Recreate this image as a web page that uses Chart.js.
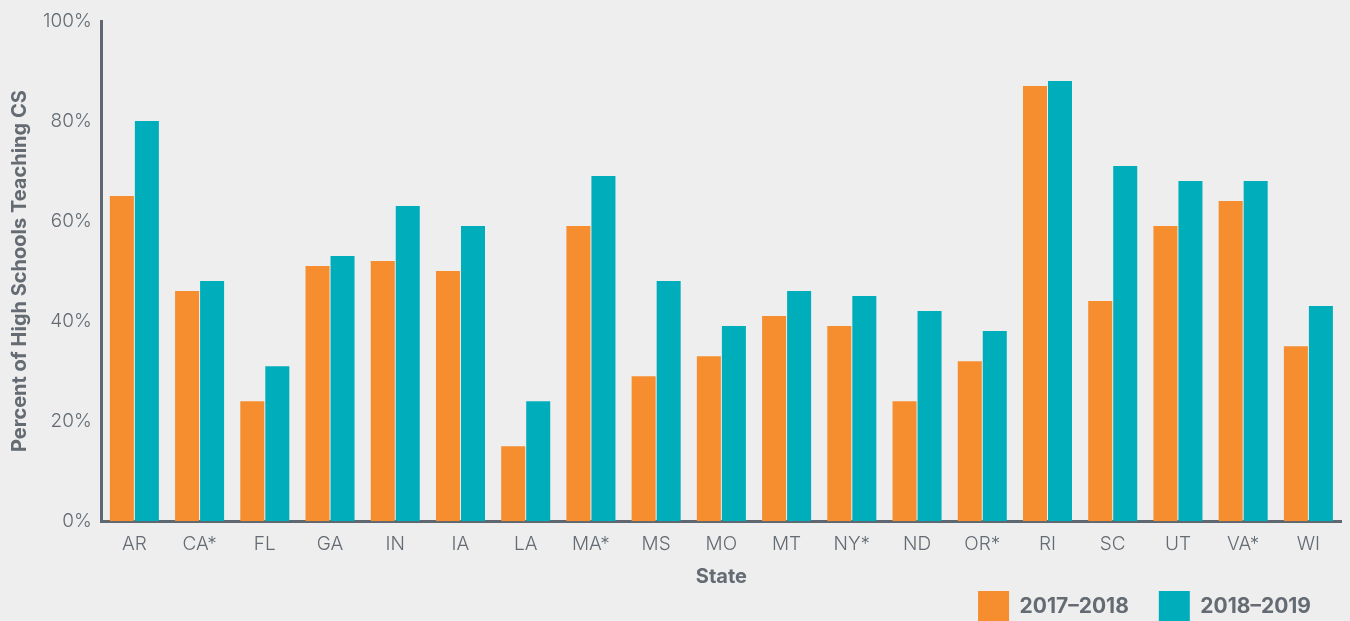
<!DOCTYPE html>
<html>
<head>
<meta charset="utf-8">
<script src="https://cdn.jsdelivr.net/npm/chart.js@4.4.1/dist/chart.umd.min.js"></script>
<style>
  html, body { margin: 0; padding: 0; background: #eeeeee; overflow: hidden; }
  #wrap { width: 1350px; height: 632px; }
</style>
</head>
<body>
<div id="wrap"><canvas id="chart" width="1350" height="632"></canvas></div>
<script>
const states = ["AR", "CA*", "FL", "GA", "IN", "IA", "LA", "MA*", "MS", "MO", "MT", "NY*", "ND", "OR*", "RI", "SC", "UT", "VA*", "WI"];
const year2017 = [65, 46, 24, 51, 52, 50, 15, 59, 29, 33, 41, 39, 24, 32, 87, 44, 59, 64, 35];
const year2018 = [80, 48, 31, 53, 63, 59, 24, 69, 48, 39, 46, 45, 42, 38, 88, 71, 68, 68, 43];
const yTicks = [0, 20, 40, 60, 80, 100];

const textGray = '#646b73';
const axisGray = '#5f6870';
const fontFamily = 'Inter, "Open Sans", sans-serif';

const chartData = {
  labels: states,
  datasets: [
    {
      label: "2017\u20132018",
      data: year2017,
      backgroundColor: '#f68d2e',
      borderWidth: 0,
    },
    {
      label: "2018\u20132019",
      data: year2018,
      backgroundColor: '#00adbb',
      borderWidth: 0,
    },
  ],
};

const chartOptions = {
  responsive: false,
  animation: false,
  layout: {
    padding: { left: 4, right: 9, top: 21, bottom: 0 }
  },
  datasets: {
    bar: {
      categoryPercentage: 0.767,
      barPercentage: 0.96,
    }
  },
  plugins: {
    tooltip: { enabled: false },
    legend: {
      position: "bottom",
      align: "end",
      labels: {
        boxWidth: 31,
        boxHeight: 31,
        padding: 30,
        color: textGray,
        font: { size: 21, family: fontFamily, weight: 700 },
      },
    },
  },
  scales: {
    x: {
      grid: { display: false },
      border: { display: true, color: axisGray, width: 3 },
      ticks: {
        color: textGray,
        padding: 4,
        font: { size: 19, family: fontFamily, weight: 300 },
      },
      title: {
        display: true,
        text: "State",
        color: textGray,
        // pull the legend up under the title
        padding: { top: 5, bottom: -28 },
        font: { size: 20, family: fontFamily, weight: 700 },
      },
    },
    y: {
      min: 0,
      max: 100,
      afterBuildTicks: function (axis) {
        axis.ticks = yTicks.map(v => ({ value: v }));
      },
      grid: { display: false },
      border: { display: true, color: axisGray, width: 3 },
      ticks: {
        color: textGray,
        padding: 2,
        callback: function (value) {
          return value + "%";
        },
        font: { size: 19, family: fontFamily, weight: 300 },
      },
      title: {
        display: true,
        text: "Percent of High Schools Teaching CS",
        color: textGray,
        padding: { top: 4, bottom: 9 },
        font: { size: 20, family: fontFamily, weight: 700 },
      },
    },
  },
};

new Chart(document.getElementById('chart').getContext('2d'), {
  type: "bar",
  data: chartData,
  options: chartOptions,
});
</script>
</body>
</html>
